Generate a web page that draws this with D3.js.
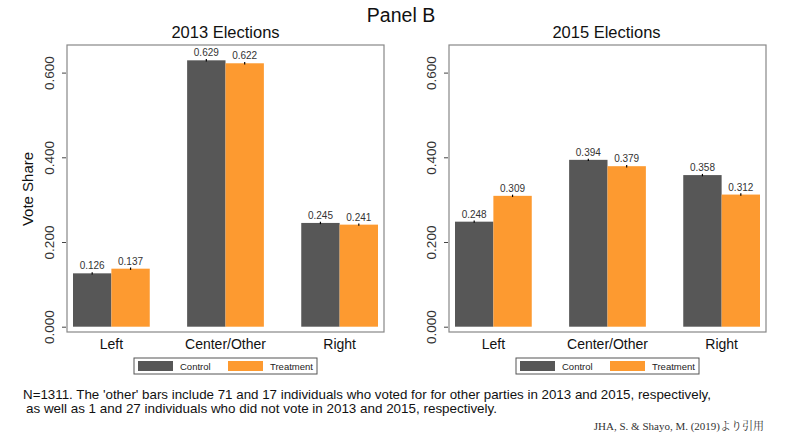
<!DOCTYPE html>
<html><head><meta charset="utf-8">
<script src="https://cdn.jsdelivr.net/npm/d3@7/dist/d3.min.js"></script>
<style>body{margin:0;background:#fff}svg{display:block;font-family:"Liberation Sans",Arial,sans-serif}</style>
</head><body><svg id="c" width="800" height="447"></svg>
<script>
const categories = ["Left","Center/Other","Right"];
const seriesNames = ["Control","Treatment"];
const panelTitles = ["2013 Elections","2015 Elections"];
const control2013 = [0.126,0.629,0.245];
const treatment2013 = [0.137,0.622,0.241];
const control2015 = [0.248,0.394,0.358];
const treatment2015 = [0.309,0.379,0.312];
const yTicks = [0,0.2,0.4,0.6];
const colors = ["#575757","#fd9a30"];

const svg = d3.select("#c");
const panels = [
  {title: panelTitles[0], data:[control2013,treatment2013], x0:67},
  {title: panelTitles[1], data:[control2015,treatment2015], x0:449}
];
const boxW = 317, boxTop = 45, boxBottom = 332;
const y = d3.scaleLinear().domain([0,0.6]).range([326.7,72.6]);

svg.append("text").attr("x",401).attr("y",22).attr("text-anchor","middle")
  .attr("font-size",19.5).attr("fill","#111").text("Panel B");

panels.forEach((p,pi)=>{
  const g = svg.append("g");
  const x = d3.scaleBand().domain(categories).range([p.x0+6, p.x0+311]).paddingInner(0.3275).paddingOuter(0);
  const xs = d3.scaleBand().domain(seriesNames).range([0,x.bandwidth()]);
  g.append("text").attr("x",p.x0+boxW/2-(pi?1:0)).attr("y",38).attr("text-anchor","middle")
    .attr("font-size",16.5).attr("fill","#111").text(p.title);
  g.append("rect").attr("x",p.x0).attr("y",boxTop).attr("width",boxW).attr("height",boxBottom-boxTop)
    .attr("fill","none").attr("stroke","#888").attr("stroke-width",1.2);
  const ya = d3.axisLeft(y).tickValues(yTicks).tickFormat(d3.format(".3f")).tickSize(4);
  const ag = g.append("g").attr("transform",`translate(${p.x0-1},0)`).call(ya);
  ag.select(".domain").remove();
  ag.selectAll("line").attr("stroke","#444");
  ag.selectAll("text").attr("transform","rotate(-90)").attr("x",0).attr("y",-12)
    .attr("dy","0").attr("text-anchor","middle").attr("font-size",13.5).attr("fill","#333")
    .attr("font-family","Liberation Sans, Arial, sans-serif");
  seriesNames.forEach((s,si)=>{
    p.data[si].forEach((v,ci)=>{
      const bx = x(categories[ci])+xs(s);
      g.append("rect").attr("x",bx).attr("y",y(v)).attr("width",xs.bandwidth())
        .attr("height",y(0)-y(v)).attr("fill",colors[si]);
      g.append("line").attr("x1",bx+xs.bandwidth()/2).attr("x2",bx+xs.bandwidth()/2)
        .attr("y1",y(v)-1.2).attr("y2",y(v)+1.2).attr("stroke","#000").attr("stroke-width",1.2);
      g.append("text").attr("x",bx+xs.bandwidth()/2).attr("y",y(v)-4).attr("text-anchor","middle")
        .attr("font-size",10).attr("fill","#333").text(d3.format(".3f")(v));
    });
  });
  const xa = d3.axisBottom(x).tickSize(0);
  const xg = g.append("g").attr("transform",`translate(0,${boxBottom})`).call(xa);
  xg.select(".domain").remove();
  xg.selectAll("text").attr("y",7).attr("dy","0.71em").attr("font-size",14).attr("fill","#111")
    .attr("font-family","Liberation Sans, Arial, sans-serif");
  const lx = p.x0+67, ly = 358;
  g.append("rect").attr("x",lx).attr("y",ly).attr("width",183).attr("height",16)
    .attr("fill","#fff").attr("stroke","#555").attr("stroke-width",1);
  seriesNames.forEach((s,si)=>{
    const sx = lx + 4 + si*90;
    g.append("rect").attr("x",sx).attr("y",ly+3).attr("width",35).attr("height",10).attr("fill",colors[si]);
    g.append("text").attr("x",sx+42).attr("y",ly+12).attr("font-size",9.5).attr("fill","#222").text(s);
  });
});

svg.append("text").attr("transform","translate(33,189) rotate(-90)").attr("text-anchor","middle")
  .attr("font-size",15).attr("fill","#111").text("Vote Share");

svg.append("text").attr("x",23).attr("y",399).attr("font-size",13).attr("fill","#111")
  .attr("textLength",688).attr("lengthAdjust","spacingAndGlyphs")
  .text("N=1311. The 'other' bars include 71 and 17 individuals who voted for for other parties in 2013 and 2015, respectively,");
svg.append("text").attr("x",26).attr("y",413).attr("font-size",13).attr("fill","#111")
  .attr("textLength",471).attr("lengthAdjust","spacingAndGlyphs")
  .text("as well as 1 and 27 individuals who did not vote in 2013 and 2015, respectively.");
svg.append("text").attr("x",764).attr("y",430).attr("text-anchor","end").attr("font-size",11)
  .attr("fill","#333").attr("font-family","Liberation Serif, 'Noto Serif CJK JP', 'Noto Sans CJK JP', serif")
  .text("JHA, S. & Shayo, M. (2019)より引用");
</script></body></html>
